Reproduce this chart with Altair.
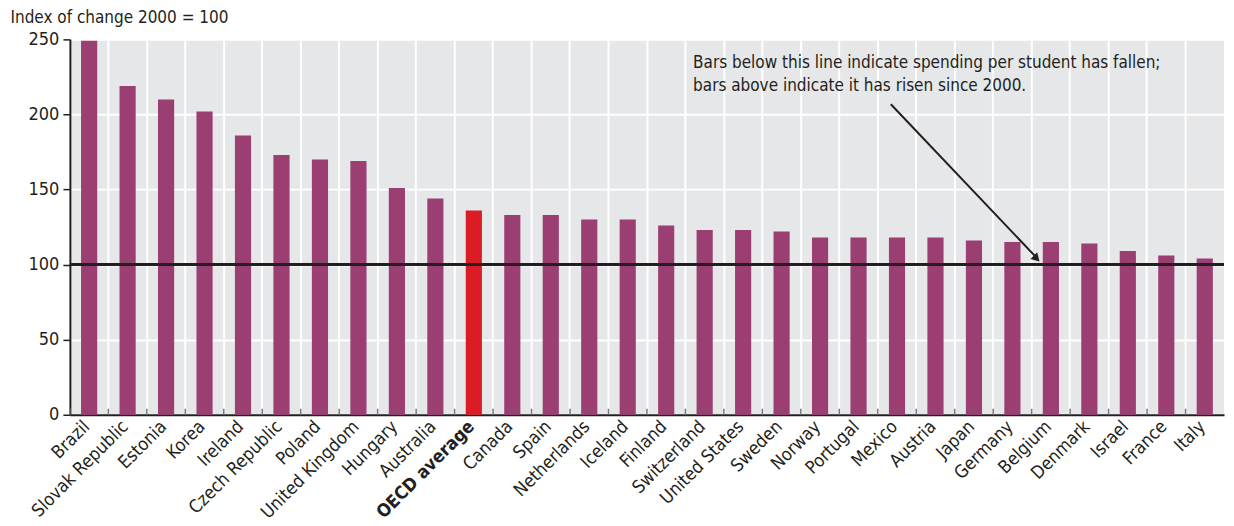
import altair as alt
import pandas as pd

countries = ["Brazil", "Slovak Republic", "Estonia", "Korea", "Ireland", "Czech Republic",
             "Poland", "United Kingdom", "Hungary", "Australia", "OECD average", "Canada",
             "Spain", "Netherlands", "Iceland", "Finland", "Switzerland", "United States",
             "Sweden", "Norway", "Portugal", "Mexico", "Austria", "Japan", "Germany",
             "Belgium", "Denmark", "Israel", "France", "Italy"]
values = [249, 219, 210, 202, 186, 173, 170, 169, 151, 144, 136, 133, 133, 130, 130, 126,
          123, 123, 122, 118, 118, 118, 118, 116, 115, 115, 114, 109, 106, 104]
y_ticks = [0, 50, 100, 150, 200, 250]
note_lines = ["Bars below this line indicate spending per student has fallen;",
              "bars above indicate it has risen since 2000."]
highlight = "OECD average"

FONT = "Liberation Sans Narrow, DejaVu Sans Condensed, sans-serif"
PURPLE = "#9b3f72"
RED = "#dc1c24"
INK = "#231f20"

df = pd.DataFrame({"country": countries, "value": values})
one = pd.DataFrame({"k": [0]})

band = alt.Scale(paddingInner=0, paddingOuter=0)
yscale = alt.Scale(domain=[0, 250], nice=False)
qx = alt.Scale(domain=[0, len(countries)], nice=False, zero=False)

bars = alt.Chart(df).mark_bar(width=alt.RelativeBandSize(0.42)).encode(
    x=alt.X("country:N", sort=countries, scale=band,
            axis=alt.Axis(title=None, bandPosition=0, grid=True, gridColor="white",
                          gridWidth=2, ticks=False, domainColor=INK, domainWidth=2,
                          labelAngle=-45, labelAlign="right", labelBaseline="middle",
                          labelFont=FONT, labelFontSize=18, labelColor=INK,
                          labelPadding=9, labelOffset=-2, labelOverlap=False,
                          labelFontWeight=alt.condition(
                              f"datum.value == '{highlight}'",
                              alt.value("bold"), alt.value("normal")))),
    y=alt.Y("value:Q", scale=yscale,
            axis=alt.Axis(values=y_ticks, grid=True, gridColor="white", gridWidth=2,
                          tickColor=INK, tickSize=7, tickWidth=1.5, domainColor=INK,
                          domainWidth=2, labelFont=FONT, labelFontSize=18,
                          labelColor=INK, labelPadding=4,
                          title="Index of change 2000 = 100", titleAngle=0,
                          titleAlign="left", titleBaseline="middle", titleX=-60,
                          titleY=-22, titleFont=FONT, titleFontSize=17,
                          titleFontWeight="normal", titleColor=INK)),
    color=alt.condition(f"datum.country == '{highlight}'", alt.value(RED), alt.value(PURPLE)),
)

ticks = alt.Chart(df).mark_rule(color="#777", strokeWidth=1.5).encode(
    x=alt.X("country:N", sort=countries, scale=band, bandPosition=0, axis=None),
    y=alt.datum(0),
    y2=alt.datum(4),
)

ref = alt.Chart(one).mark_rule(color=INK, strokeWidth=3).encode(y=alt.datum(100))

arrow = alt.Chart(one).mark_rule(color=INK, strokeWidth=2).encode(
    x=alt.X(datum=21.34, type="quantitative", scale=qx, axis=None),
    x2=alt.datum(25.15),
    y=alt.Y(datum=206.8, type="quantitative"),
    y2=alt.datum(104),
)
head = alt.Chart(one).mark_point(shape="triangle-up", filled=True, color=INK, size=90,
                                 opacity=1, angle=136).encode(
    x=alt.X(datum=25.13, type="quantitative", scale=qx, axis=None),
    y=alt.Y(datum=104.0, type="quantitative"),
)
note = alt.Chart(one).mark_text(text=note_lines, align="left", baseline="middle",
                                font=FONT, fontSize=17, lineHeight=23,
                                color=INK).encode(
    x=alt.X(datum=16.2, type="quantitative", scale=qx, axis=None),
    y=alt.Y(datum=234.5, type="quantitative"),
)

chart = alt.layer(bars, ticks, ref, arrow, head, note).resolve_scale(
    x="independent"
).properties(
    width=1156, height=376,
    padding={"left": 2, "top": 0, "right": 0, "bottom": 0},
).configure_view(fill="#e6e7e9", stroke=None)

chart.save("out.html", embed_options={"renderer": "svg", "actions": False})
